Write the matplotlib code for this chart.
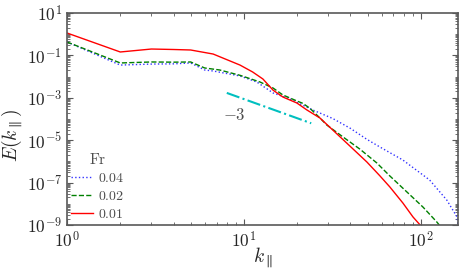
import numpy as np
import matplotlib
matplotlib.use('Agg')
import matplotlib.pyplot as plt
from matplotlib.ticker import FixedLocator, LogLocator, FuncFormatter, NullFormatter

plt.rcParams['mathtext.fontset'] = 'cm'
plt.rcParams['font.family'] = 'serif'
plt.rcParams['font.serif'] = ['cmr10', 'DejaVu Serif']
plt.rcParams['axes.formatter.use_mathtext'] = True

# Fr = 0.04
k_04 = [1, 2, 3, 4, 5, 6, 6.7, 9.5, 11.8, 14.6, 18.2, 24.5, 31.8, 40, 49.5, 58.6, 79.1, 112, 140, 160, 162]
E_04 = [0.43, 0.035, 0.039, 0.040, 0.044, 0.0205, 0.0184, 0.0107, 0.0056, 0.0017, 8.8e-4,
        2.66e-4, 1.05e-4, 3.6e-5, 1.1e-5, 4.8e-6, 1.16e-6, 1.33e-7, 1.51e-8, 2.4e-9, 1e-9]
# Fr = 0.02
k_02 = [1, 2, 3, 4, 5, 6, 7.3, 9.5, 12.3, 14.6, 16.6, 18.2, 19.9, 21.5, 23.6, 26.9, 29.4,
        36.3, 45.2, 56.4, 66.8, 83.4, 102.6, 123, 127]
E_02 = [0.43, 0.044, 0.049, 0.048, 0.049, 0.0255, 0.0205, 0.0115, 0.0056, 0.0029, 0.00136,
        9.8e-4, 7.1e-4, 5.5e-4, 3.2e-4, 1.11e-4, 5.2e-5, 1.42e-5, 3.8e-6, 8.4e-7, 2.05e-7,
        3.6e-8, 7.1e-9, 1.39e-9, 1e-9]
# Fr = 0.01
k_01 = [1, 2, 3, 4, 5, 6.7, 9.5, 11.2, 12.8, 14.6, 16.6, 19.9, 22.7, 26.9, 31.8, 40,
        49.5, 58.6, 66.8, 79.1, 90.2, 99]
E_01 = [1.14, 0.145, 0.20, 0.19, 0.18, 0.116, 0.035, 0.0165, 0.0077, 0.0023, 0.00109,
        5.7e-4, 2.66e-4, 1.11e-4, 3.0e-5, 5.0e-6, 9.4e-7, 2.1e-7, 6.2e-8, 1.09e-8, 2.4e-9, 1e-9]
# k^-3 guide line
k_ref = [8, 24]
E_ref = [1.7e-3, 6.3e-5]

fig = plt.figure(figsize=(4.64, 2.75), dpi=100)
ax = fig.add_axes([0.1444, 0.1818, 0.8426, 0.7709])

ax.loglog(k_04, E_04, ':', color='#3333ff', lw=1.0, label='$0.04$')
ax.loglog(k_02, E_02, '--', color='green', lw=1.0, label='$0.02$')
ax.loglog(k_01, E_01, '-', color='red', lw=1.0, label='$0.01$')
ax.loglog(k_ref, E_ref, '-.', color='c', lw=1.5)
ax.text(8.8, 1.55e-4, r'$-3$', fontsize=12, ha='center', va='center', color='0.3')

ax.set_xlim(1, 162)
ax.set_ylim(1e-9, 10)

fmt = FuncFormatter(lambda v, p: r'$10^{%d}$' % round(np.log10(v)))
ax.xaxis.set_major_locator(FixedLocator([1, 10, 100]))
ax.xaxis.set_minor_locator(LogLocator(base=10, subs=np.arange(2, 10)))
ax.xaxis.set_major_formatter(fmt)
ax.xaxis.set_minor_formatter(NullFormatter())
ax.yaxis.set_major_locator(FixedLocator([1e1, 1e-1, 1e-3, 1e-5, 1e-7, 1e-9]))
ax.yaxis.set_minor_locator(LogLocator(base=10, subs=np.arange(1, 10), numticks=30))
ax.yaxis.set_major_formatter(fmt)
ax.yaxis.set_minor_formatter(NullFormatter())

ax.tick_params(which='both', direction='in', top=True, right=True, colors='0.35',
               labelcolor='0.15', labelsize=12.5)
ax.tick_params(which='major', length=4)
ax.tick_params(which='minor', length=2)
for s in ax.spines.values():
    s.set_color('0.35')
    s.set_linewidth(1.2)

ax.set_xlabel(r'$k_\parallel$', fontsize=14, color='0.15')
ax.set_ylabel(r'$E(k_\parallel)$', fontsize=14, color='0.15')
ax.xaxis.set_label_coords(0.5, -0.1)
ax.yaxis.set_label_coords(-0.107, 0.42)

leg = ax.legend(title=r'$\mathrm{Fr}$', loc='lower left', frameon=False, fontsize=10,
                handlelength=1.6, handletextpad=0.3, labelspacing=0.35,
                borderaxespad=0.1, borderpad=0.2)
leg.get_title().set_fontsize(11)
for t in leg.get_texts() + [leg.get_title()]:
    t.set_color('0.3')

fig.savefig('out.png', dpi=100)
